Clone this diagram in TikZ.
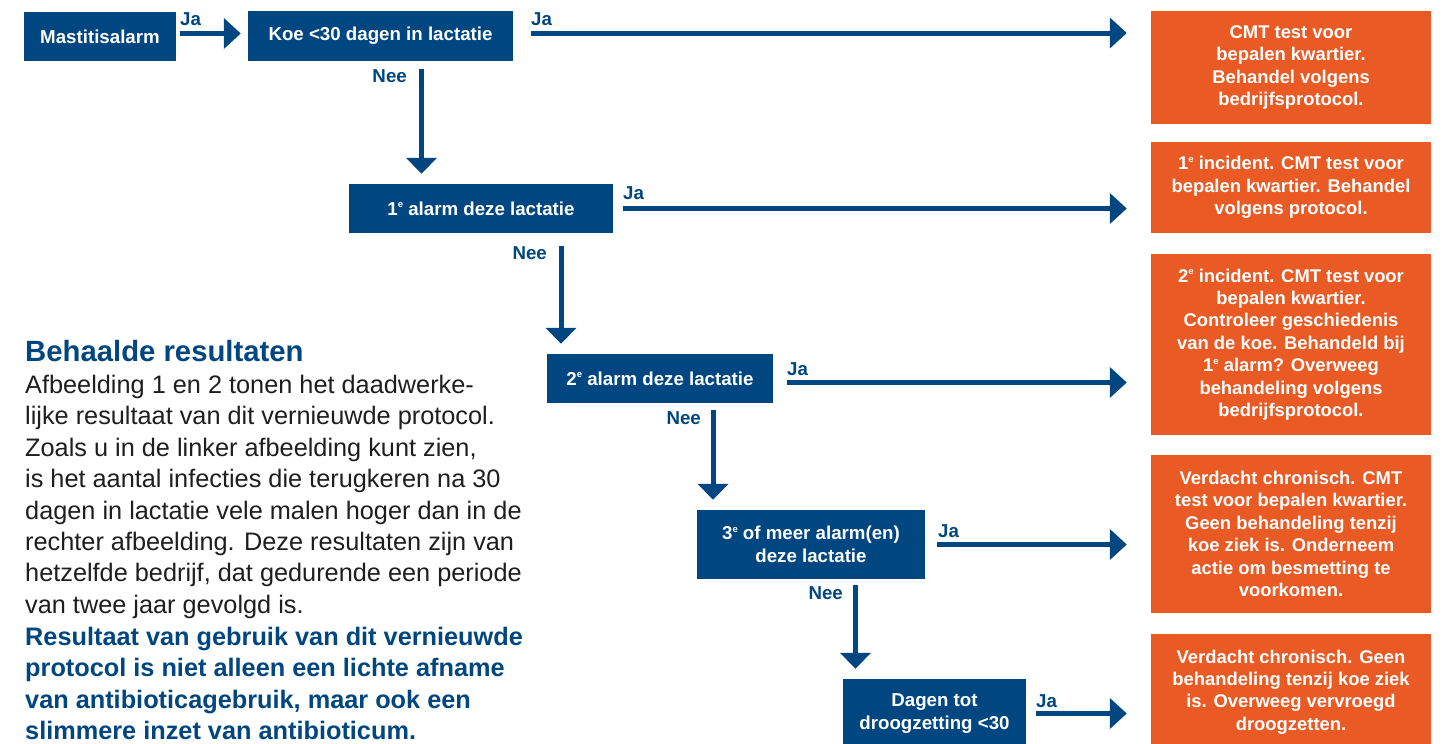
\documentclass[tikz,border=0pt]{standalone}
\usepackage{fontspec}
\setmainfont{Liberation Sans}
\usetikzlibrary{arrows.meta}
\definecolor{kblauw}{HTML}{004680}
\definecolor{koranje}{HTML}{E95A24}
\definecolor{tekstgrijs}{HTML}{1E1E1E}
\newcommand{\rangE}{\raisebox{7.5pt}{\fontsize{9.5}{9.5}\selectfont e}}

\begin{document}
\begin{tikzpicture}[x=1pt, y=-1pt]
  \tikzstyle{vraag}=[fill=kblauw, text=white, font=\bfseries\fontsize{18.7}{22.7}\selectfont, align=center, inner sep=0pt]
  \tikzstyle{advies}=[fill=koranje, text=white, font=\bfseries\fontsize{18.4}{22.4}\selectfont, align=center, inner sep=0pt, minimum width=280pt]
  \tikzstyle{keuze}=[text=kblauw, font=\bfseries\fontsize{18.7}{22.7}\selectfont, inner sep=0pt]
  \tikzstyle{ja}=[draw=kblauw, line width=5pt, -{Triangle[width=30pt,length=17pt]}, shorten <=12pt, shorten >=24pt]
  \tikzstyle{nee}=[draw=kblauw, line width=5pt, -{Triangle[width=30pt,length=16pt]}, shorten <=8pt, shorten >=10pt]

  \useasboundingbox (0,0) rectangle (1449,744);

  % vragen
  \node[vraag, minimum width=152pt, minimum height=49pt] (mast) at (100,36.5) {Mastitisalarm};
  \node[vraag, minimum width=265pt, minimum height=50pt] (koe) at (380.5,36) {Koe <30 dagen in lactatie};
  \node[vraag, minimum width=264pt, minimum height=49pt] (alarm1) at (481,208.5) {1\rangE\ alarm deze lactatie};
  \node[vraag, minimum width=226pt, minimum height=49pt] (alarm2) at (660,378.5) {2\rangE\ alarm deze lactatie};
  \node[vraag, minimum width=228pt, minimum height=69pt] (alarm3) at (811,544.5) {3\rangE\ of meer alarm(en)\\deze lactatie};
  \node[vraag, minimum width=183pt, minimum height=69pt] (dagen) at (934.5,713.5) {Dagen tot\\droogzetting <30};

  % adviezen
  \node[advies, minimum height=113pt] (advies1) at (1291,67.5) {CMT test voor\\bepalen kwartier.\\Behandel volgens\\bedrijfsprotocol.};
  \node[advies, minimum height=91pt] (advies2) at (1291,187.5) {1\rangE\ incident. CMT test voor\\bepalen kwartier. Behandel\\volgens protocol.};
  \node[advies, minimum height=181pt] (advies3) at (1291,344.5) {2\rangE\ incident. CMT test voor\\bepalen kwartier.\\Controleer geschiedenis\\van de koe. Behandeld bij\\1\rangE\ alarm? Overweeg\\behandeling volgens\\bedrijfsprotocol.};
  \node[advies, minimum height=158pt] (advies4) at (1291,534) {Verdacht chronisch. CMT\\test voor bepalen kwartier.\\Geen behandeling tenzij\\koe ziek is. Onderneem\\actie om besmetting te\\voorkomen.};
  \node[advies, minimum height=116pt] (advies5) at (1291,692) {Verdacht chronisch. Geen\\behandeling tenzij koe ziek\\is. Overweeg vervroegd\\droogzetten.};

  % ja-pijlen
  \draw[ja, shorten <=4pt, shorten >=7pt] ([yshift=3pt]mast.east) -- ([yshift=3pt]mast.east -| koe.west);
  \draw[ja, shorten <=18pt] ([yshift=3pt]koe.east) -- ([yshift=3pt]koe.east -| advies1.west);
  \draw[ja, shorten <=10pt] (alarm1.east) -- (alarm1.east -| advies2.west);
  \draw[ja, shorten <=14pt] ([yshift=-4pt]alarm2.east) -- ([yshift=-4pt]alarm2.east -| advies3.west);
  \draw[ja] (alarm3.east) -- (alarm3.east -| advies4.west);
  \draw[ja, shorten <=10pt] (dagen.east) -- (dagen.east -| advies5.west);

  \node[keuze, anchor=base west] (ja1) at (180,25) {Ja};
  \node[keuze, anchor=base west] (ja2) at (531,25) {Ja};
  \node[keuze, anchor=base west] (ja3) at (623,199) {Ja};
  \node[keuze, anchor=base west] (ja4) at (787,375) {Ja};
  \node[keuze, anchor=base west] (ja5) at (938,537) {Ja};
  \node[keuze, anchor=base west] (ja6) at (1036,707) {Ja};

  % nee-pijlen
  \coordinate (n1) at (421.5,0);
  \coordinate (n2) at (561,0);
  \coordinate (n3) at (713,0);
  \coordinate (n4) at (855.5,0);
  \draw[nee] (koe.south -| n1) -- (alarm1.north -| n1);
  \draw[nee, shorten <=13pt] (alarm1.south -| n2) -- (alarm2.north -| n2);
  \draw[nee, shorten <=7pt] (alarm2.south -| n3) -- (alarm3.north -| n3);
  \draw[nee, shorten <=6pt] (alarm3.south -| n4) -- (dagen.north -| n4);

  \node[keuze, anchor=base east] (nee1) at (407,82) {Nee};
  \node[keuze, anchor=base east] (nee2) at (547,259) {Nee};
  \node[keuze, anchor=base east] (nee3) at (701,424) {Nee};
  \node[keuze, anchor=base east] (nee4) at (843,599) {Nee};

  % tekst links
  \node[anchor=north west, inner sep=0pt, text=kblauw, font=\bfseries\fontsize{29.3}{35}\selectfont] (kop) at (25,340) {Behaalde resultaten};
  \node[anchor=north west, inner sep=0pt, align=left, text=tekstgrijs, font=\fontsize{25.3}{31.4}\selectfont] (tekst) at (25,375) {Afbeelding 1 en 2 tonen het daadwerke-\\lijke resultaat van dit vernieuwde protocol.\\Zoals u in de linker afbeelding kunt zien,\\is het aantal infecties die terugkeren na 30\\dagen in lactatie vele malen hoger dan in de\\rechter afbeelding. Deze resultaten zijn van\\hetzelfde bedrijf, dat gedurende een periode\\van twee jaar gevolgd is.};
  \node[anchor=north west, inner sep=0pt, align=left, text=kblauw, font=\bfseries\fontsize{25.3}{31.4}\selectfont] (slot) at (25,627) {Resultaat van gebruik van dit vernieuwde\\protocol is niet alleen een lichte afname\\van antibioticagebruik, maar ook een\\slimmere inzet van antibioticum.};
\end{tikzpicture}
\end{document}
